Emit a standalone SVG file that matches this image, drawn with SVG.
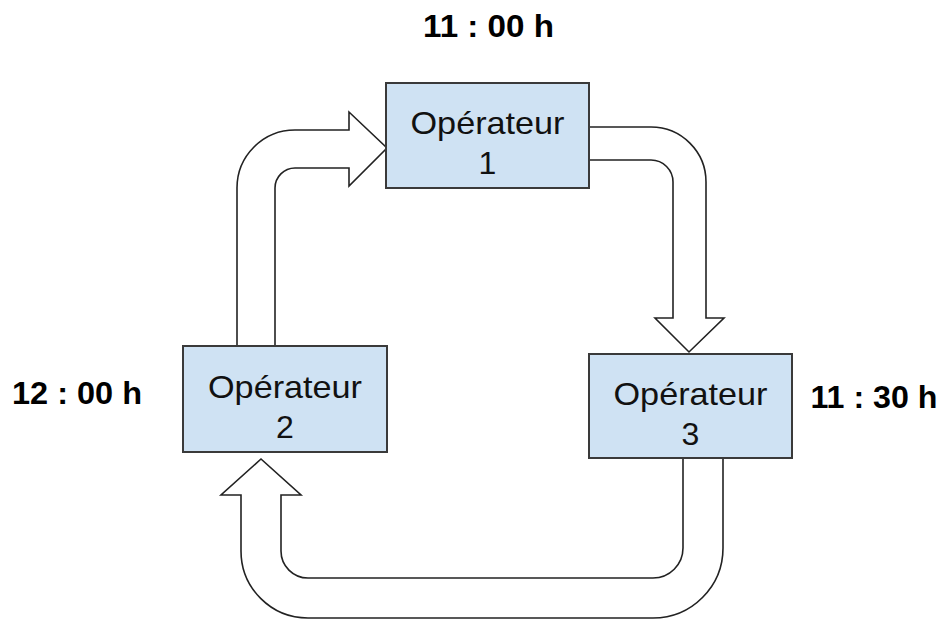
<svg xmlns="http://www.w3.org/2000/svg" width="946" height="621" viewBox="0 0 946 621">
<style>
.box{fill:#cfe2f3;stroke:#3a3a3a;stroke-width:2}
.arrow{fill:#ffffff;stroke:#222222;stroke-width:1.6;stroke-linejoin:miter}
.lbl{font-family:"Liberation Sans",Arial,sans-serif;font-size:32px;fill:#111111;text-anchor:middle}
.time{font-family:"Liberation Sans",Arial,sans-serif;font-size:31px;font-weight:bold;fill:#000000;text-anchor:middle}
</style>
<rect width="946" height="621" fill="#ffffff"/>
<g id="connectors">
<path class="arrow" d="M237,346 L237,188 A58,58 0 0 1 295,130 L349,130 L349,112 L387,148 L349,186 L349,168 L295,168 A20,20 0 0 0 275,188 L275,346 Z"/>
<path class="arrow" d="M589,127 L651,127 A55,55 0 0 1 706,182 L706,318 L724,318 L689,352 L655,318 L673,318 L673,182 A22,22 0 0 0 651,160 L589,160 Z"/>
<path class="arrow" d="M683,458 L683,548 A30,30 0 0 1 653,578 L308,578 A27,27 0 0 1 281,551 L281,495 L301,495 L261,459 L221,495 L241,495 L241,551 A67,67 0 0 0 308,618 L653,618 A70,70 0 0 0 723,548 L723,458 Z"/>
</g>
<g id="op1">
<rect class="box" x="386" y="83" width="203" height="105"/>
<text class="lbl" x="487.5" y="134" textLength="154" lengthAdjust="spacingAndGlyphs">Opérateur</text>
<text class="lbl" x="487.5" y="174">1</text>
</g>
<g id="op2">
<rect class="box" x="183" y="346" width="204" height="106"/>
<text class="lbl" x="285" y="398" textLength="154" lengthAdjust="spacingAndGlyphs">Opérateur</text>
<text class="lbl" x="285" y="438">2</text>
</g>
<g id="op3">
<rect class="box" x="589" y="354" width="203" height="104"/>
<text class="lbl" x="690.5" y="405" textLength="154" lengthAdjust="spacingAndGlyphs">Opérateur</text>
<text class="lbl" x="690.5" y="445">3</text>
</g>
<g id="t1"><text class="time" x="488.5" y="37" textLength="131" lengthAdjust="spacingAndGlyphs">11 : 00 h</text></g>
<g id="t2"><text class="time" x="77" y="404" textLength="130" lengthAdjust="spacingAndGlyphs">12 : 00 h</text></g>
<g id="t3"><text class="time" x="874" y="408" textLength="127" lengthAdjust="spacingAndGlyphs">11 : 30 h</text></g>
</svg>
